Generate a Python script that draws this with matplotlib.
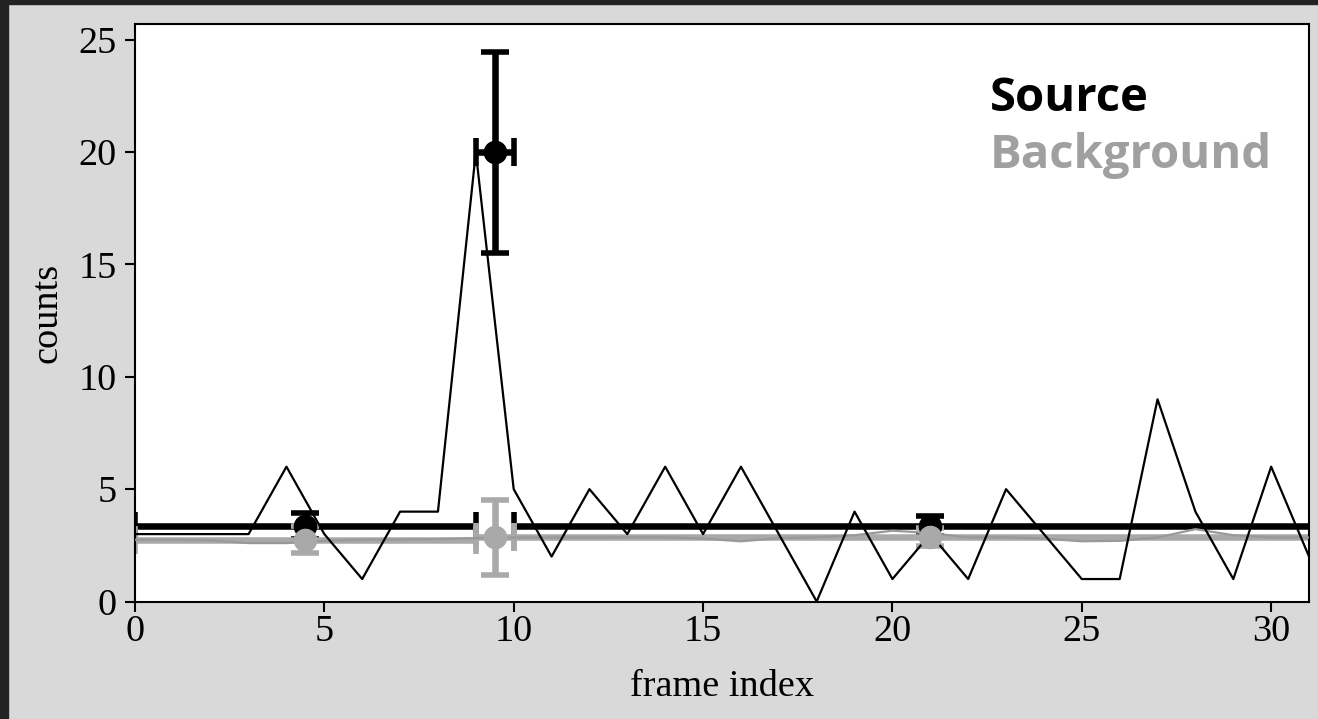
import matplotlib
matplotlib.use("Agg")
import matplotlib.pyplot as plt
from matplotlib.patches import Rectangle

# per-frame counts
frames = list(range(32))
src_counts = [3, 3, 3, 3, 6, 3, 1, 4, 4, 20, 5, 2, 5, 3, 6, 3,
              6, 3, 0, 4, 1, 3, 1, 5, 3, 1, 1, 9, 4, 1, 6, 2]
bkg_counts = [2.75, 2.75, 2.72, 2.6, 2.6, 2.7, 2.75, 2.76, 2.78, 2.82, 2.85,
              2.85, 2.85, 2.86, 2.86, 2.8, 2.68, 2.82, 2.86, 2.95, 3.15, 3.05,
              2.85, 2.86, 2.8, 2.68, 2.7, 2.85, 3.22, 2.95, 2.85, 2.85]

# blocks (centre, half-width)
block_x = [4.5, 9.5, 21.0]
block_xerr = [4.5, 0.5, 11.0]
src_rate = [3.36, 20.0, 3.36]
src_err = [0.6, 4.47, 0.45]
bkg_rate = [2.75, 2.85, 2.85]
bkg_err = [0.6, 1.68, 0.4]

plt.rcParams["font.family"] = ["Liberation Serif"]

fig = plt.figure(figsize=(13.18, 7.19), dpi=100, facecolor="#d9d9d9")
ax = fig.add_axes([0.1024, 0.1634, 0.8908, 0.8032])

ebkw = dict(fmt="o", markersize=16, elinewidth=4.7, capsize=10, capthick=4, zorder=2)
for rate, err, col in [(src_rate, src_err, "black"), (bkg_rate, bkg_err, "#a9a9a9")]:
    eb = ax.errorbar(block_x, rate, xerr=block_xerr, yerr=err, color=col, **ebkw)
    eb[0].set_zorder(4)

ax.plot(frames, bkg_counts, color="#999999", lw=1.6, zorder=3)
ax.plot(frames, src_counts, color="black", lw=1.6, zorder=3)

ax.set_xlim(0, 31)
ax.set_ylim(0, 25.7)
ax.set_xticks(range(0, 31, 5))
ax.set_yticks(range(0, 26, 5))
ax.tick_params(labelsize=27.5, length=7, width=1.5, direction="out")
ax.tick_params(axis="y", pad=6)
ax.tick_params(axis="x", pad=2)
for sp in ax.spines.values():
    sp.set_linewidth(1.5)
ax.set_xlabel("frame index", fontsize=27.5, labelpad=15)
ax.set_ylabel("counts", fontsize=27.5, labelpad=10)

ax.text(0.728, 0.849, "Source", transform=ax.transAxes, color="black",
        fontsize=34, fontweight="bold", family="Open Sans", va="baseline")
ax.text(0.728, 0.751, "Background", transform=ax.transAxes, color="#a0a0a0",
        fontsize=34, fontweight="bold", family="Open Sans", va="baseline")

# dark frame on the left and top edges
fig.patches.append(Rectangle((0, 0), 8 / 1318, 1, transform=fig.transFigure,
                             color="#222222", zorder=10))
fig.patches.append(Rectangle((0, 1 - 4 / 719), 1, 4 / 719, transform=fig.transFigure,
                             color="#222222", zorder=10))

fig.savefig("out.png", dpi=100, facecolor=fig.get_facecolor())
